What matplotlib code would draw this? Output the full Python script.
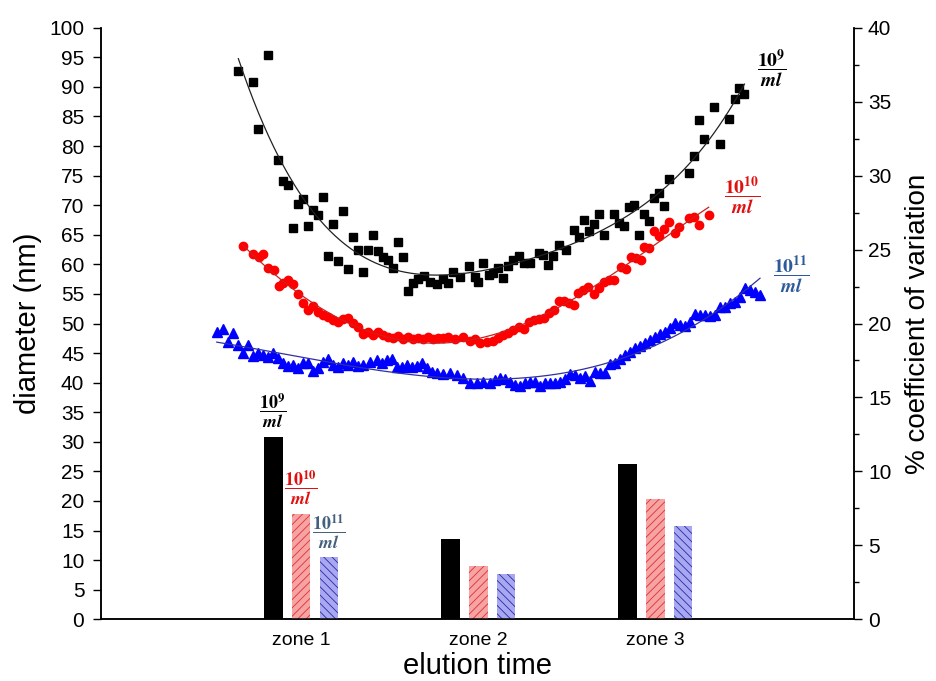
import numpy as np
import matplotlib
matplotlib.use("Agg")
import matplotlib.pyplot as plt

plt.rcParams['font.family'] = ['Liberation Sans', 'DejaVu Sans']
plt.rcParams['mathtext.fontset'] = 'stix'
plt.rcParams['hatch.linewidth'] = 0.6

# zone positions on the elution axis
zones = ['zone 1', 'zone 2', 'zone 3']
zone_pos = np.array([1, 2, 3])

# % coefficient of variation per zone (right axis)
cv_1e9 = [12.35, 5.43, 10.48]
cv_1e10 = [7.12, 3.60, 8.13]
cv_1e11 = [4.19, 3.04, 6.33]

# diameter (nm) vs elution time, 10^9 / ml
black_x = [0.646, 0.731, 0.755, 0.812, 0.868, 0.898, 0.925, 0.956, 0.985, 1.010,
           1.040, 1.068, 1.098, 1.124, 1.151, 1.181, 1.211, 1.237, 1.267, 1.294,
           1.324, 1.352, 1.380, 1.407, 1.437, 1.465, 1.493, 1.521, 1.550, 1.578,
           1.606, 1.634, 1.663, 1.695, 1.729, 1.767, 1.804, 1.832, 1.860, 1.898,
           1.947, 1.983, 2.002, 2.030, 2.064, 2.086, 2.115, 2.143, 2.171, 2.199,
           2.233, 2.262, 2.294, 2.345, 2.369, 2.397, 2.425, 2.459, 2.497, 2.542,
           2.572, 2.601, 2.629, 2.657, 2.685, 2.714, 2.770, 2.798, 2.827, 2.855,
           2.883, 2.911, 2.940, 2.968, 2.996, 3.024, 3.053, 3.081, 3.194, 3.222,
           3.250, 3.279, 3.335, 3.367, 3.420, 3.452, 3.476, 3.505]
black_y = [92.73, 90.82, 82.93, 95.39, 77.64, 74.09, 73.46, 66.14, 70.15, 71.10,
           66.48, 69.13, 68.39, 71.43, 61.41, 66.82, 60.51, 68.97, 59.16, 64.57,
           62.42, 58.65, 62.42, 64.91, 62.20, 61.19, 60.73, 59.43, 63.83, 61.29,
           55.54, 56.80, 57.47, 58.03, 57.07, 56.63, 57.47, 56.80, 58.65, 57.81,
           59.72, 57.81, 57.07, 60.28, 58.20, 58.49, 59.33, 57.64, 59.72, 60.73,
           61.41, 60.18, 60.18, 61.87, 61.58, 59.89, 61.41, 63.27, 62.42, 65.80,
           64.67, 67.50, 65.69, 66.82, 68.51, 64.96, 68.51, 67.04, 66.48, 69.74,
           70.03, 64.96, 68.51, 67.38, 71.16, 72.11, 69.91, 74.37, 75.49, 78.31,
           84.48, 81.22, 86.56, 80.31, 84.62, 87.95, 89.84, 88.79]

# 10^10 / ml
red_x = [0.673, 0.729, 0.760, 0.788, 0.816, 0.845, 0.873, 0.901, 0.929, 0.956,
         0.981, 1.010, 1.041, 1.069, 1.098, 1.126, 1.154, 1.182, 1.211, 1.239,
         1.267, 1.295, 1.324, 1.352, 1.380, 1.408, 1.437, 1.465, 1.493, 1.521,
         1.549, 1.578, 1.606, 1.634, 1.663, 1.691, 1.719, 1.747, 1.776, 1.804,
         1.832, 1.870, 1.917, 1.955, 1.983, 2.011, 2.049, 2.086, 2.115, 2.143,
         2.171, 2.199, 2.233, 2.262, 2.290, 2.318, 2.346, 2.375, 2.403, 2.431,
         2.459, 2.488, 2.516, 2.544, 2.563, 2.592, 2.620, 2.657, 2.686, 2.714,
         2.742, 2.770, 2.808, 2.836, 2.864, 2.893, 2.921, 2.940, 2.968, 2.996,
         3.024, 3.053, 3.081, 3.110, 3.138, 3.194, 3.222, 3.250, 3.303]
red_y = [63.10, 61.70, 61.29, 61.70, 59.33, 59.04, 56.39, 56.80, 57.35, 56.63,
         54.99, 53.41, 52.28, 52.96, 51.99, 51.44, 51.15, 50.59, 50.30, 50.71,
         50.98, 50.03, 49.46, 48.22, 48.61, 48.06, 48.61, 48.06, 47.77, 47.55,
         47.89, 47.46, 47.72, 47.38, 47.63, 47.38, 47.72, 47.30, 47.55, 47.50,
         47.77, 47.33, 47.67, 47.09, 47.33, 46.65, 46.92, 47.09, 47.50, 48.06,
         48.44, 48.90, 49.36, 49.02, 50.30, 50.59, 50.71, 50.88, 51.83, 52.28,
         53.80, 53.80, 53.52, 53.13, 55.10, 55.66, 56.22, 54.99, 55.95, 57.07,
         57.35, 57.35, 59.60, 59.16, 61.29, 61.02, 60.73, 62.98, 62.71, 65.69,
         64.79, 66.01, 67.21, 65.25, 66.31, 67.78, 67.95, 66.57, 68.34]

# 10^11 / ml
blue_x = [0.524, 0.561, 0.589, 0.618, 0.646, 0.674, 0.702, 0.731, 0.759, 0.787,
          0.815, 0.844, 0.872, 0.900, 0.928, 0.956, 0.985, 1.013, 1.041, 1.069,
          1.098, 1.126, 1.154, 1.182, 1.211, 1.239, 1.267, 1.295, 1.324, 1.352,
          1.390, 1.428, 1.456, 1.484, 1.512, 1.541, 1.569, 1.597, 1.625, 1.654,
          1.682, 1.710, 1.738, 1.767, 1.804, 1.842, 1.880, 1.917, 1.955, 1.993,
          2.030, 2.068, 2.096, 2.124, 2.153, 2.181, 2.209, 2.237, 2.266, 2.294,
          2.322, 2.350, 2.379, 2.407, 2.435, 2.463, 2.492, 2.520, 2.548, 2.576,
          2.605, 2.633, 2.661, 2.689, 2.718, 2.746, 2.774, 2.802, 2.831, 2.859,
          2.887, 2.915, 2.944, 2.972, 3.000, 3.028, 3.056, 3.085, 3.113, 3.141,
          3.169, 3.198, 3.226, 3.254, 3.282, 3.311, 3.339, 3.367, 3.395, 3.424,
          3.452, 3.480, 3.508, 3.537, 3.565, 3.593]
blue_y = [48.61, 49.02, 46.92, 48.34, 46.37, 44.96, 46.37, 44.51, 44.96, 44.68,
          44.39, 44.96, 44.12, 43.27, 42.82, 42.99, 42.43, 43.37, 43.27, 41.97,
          42.43, 43.54, 43.95, 42.99, 42.70, 43.27, 42.99, 43.54, 42.82, 42.99,
          43.49, 43.83, 43.27, 43.83, 43.95, 42.70, 42.70, 42.99, 42.70, 42.82,
          43.27, 42.43, 41.85, 41.58, 41.46, 41.58, 41.29, 40.74, 39.99, 39.99,
          40.06, 39.99, 40.45, 40.84, 40.57, 40.16, 39.60, 39.44, 39.89, 40.06,
          40.16, 39.49, 39.89, 39.99, 39.89, 40.06, 40.57, 41.46, 41.29, 40.74,
          41.13, 40.33, 41.85, 41.68, 41.58, 43.15, 43.27, 43.95, 44.68, 45.23,
          45.81, 46.20, 46.65, 47.21, 47.77, 48.22, 48.61, 49.19, 50.03, 49.75,
          49.58, 50.30, 51.61, 51.44, 51.44, 51.27, 51.44, 52.74, 52.74, 53.41,
          53.68, 54.43, 55.95, 55.66, 55.38, 54.82]


def fit_curve(x, y, deg):
    x = np.asarray(x)
    c = np.polyfit(x, y, deg)
    xs = np.linspace(x.min(), x.max(), 300)
    return xs, np.polyval(c, xs)


fig = plt.figure(figsize=(9.36, 6.81), dpi=100)
ax = fig.add_axes([0.1079, 0.0906, 0.8045, 0.8687])
ax2 = ax.twinx()

# scatter + fits
ax.plot(black_x, black_y, 's', color='black', ms=6, zorder=3)
ax.plot(red_x, red_y, 'o', color='#ff0000', ms=6, zorder=3)
ax.plot(blue_x, blue_y, '^', color='#0000ff', ms=7, zorder=3)
for xx, yy, col, d in [(black_x, black_y, '#222222', 4),
                       (red_x, red_y, '#cc2020', 4),
                       (blue_x, blue_y, '#3030a0', 3)]:
    fx, fy = fit_curve(xx, yy, d)
    ax.plot(fx, fy, '-', color=col, lw=0.9, zorder=4)

# bars on right axis
w = 0.107
off = 0.158
ax2.bar(zone_pos - off, cv_1e9, w, color='black', lw=0)
ax2.bar(zone_pos, cv_1e10, w, facecolor='#f5a3a3', edgecolor='#e03030', hatch='////', lw=0)
ax2.bar(zone_pos + off, cv_1e11, w, facecolor='#a8a8f2', edgecolor='#2a2aa0', hatch='\\\\\\\\', lw=0)

ax.set_xlim(-0.130, 4.124)
ax.set_ylim(0, 100)
ax2.set_ylim(0, 40)

ax.set_yticks(np.arange(0, 101, 5))
ax2.set_yticks(np.arange(0, 41, 5))
ax2.set_yticks(np.arange(0, 41, 2.5), minor=True)
ax.set_xticks(zone_pos)
ax.set_xticklabels(zones, fontsize=14)
ax.tick_params(axis='x', length=0, pad=9)
ax.tick_params(axis='y', labelsize=15, length=6, width=1, direction='out', pad=6)
ax2.tick_params(axis='y', which='major', labelsize=15, length=6, width=1, direction='out', pad=4)
ax2.tick_params(axis='y', which='minor', length=3.5, width=1, direction='out')

for a in (ax, ax2):
    a.spines['top'].set_visible(False)
    for s in a.spines.values():
        s.set_linewidth(1.1)

ax.set_xlabel('elution time', fontsize=21, labelpad=2)
ax.set_ylabel('diameter (nm)', fontsize=21, labelpad=5)
ax2.set_ylabel('% coefficient of variation', fontsize=20, labelpad=10)

# concentration labels
lab9 = r'$\dfrac{\mathbf{10}^{\mathbf{9}}}{\mathbfit{ml}}$'
lab10 = r'$\dfrac{\mathbf{10}^{\mathbf{10}}}{\mathbfit{ml}}$'
lab11 = r'$\dfrac{\mathbf{10}^{\mathbf{11}}}{\mathbfit{ml}}$'
ax.text(3.66, 93.0, lab9, color='black', fontsize=14, ha='center', va='center')
ax.text(3.49, 71.5, lab10, color='#e01010', fontsize=14, ha='center', va='center')
ax.text(3.77, 58.2, lab11, color='#2e5a9c', fontsize=14, ha='center', va='center')
ax2.text(1 - off, cv_1e9[0] + 0.45, lab9, color='black', fontsize=13, ha='center', va='bottom')
ax2.text(1, cv_1e10[0] + 0.45, lab10, color='#e01010', fontsize=13, ha='center', va='bottom')
ax2.text(1 + off, cv_1e11[0] + 0.45, lab11, color='#44607f', fontsize=13, ha='center', va='bottom')

fig.savefig('out.png', dpi=100)
